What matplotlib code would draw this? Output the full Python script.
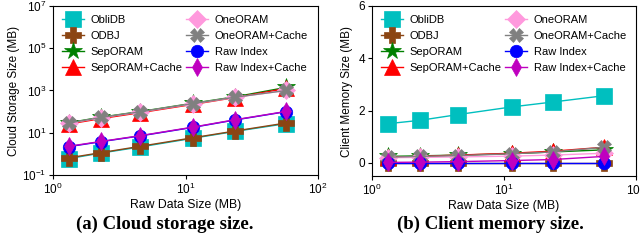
import matplotlib
matplotlib.use("Agg")
import matplotlib.pyplot as plt
import numpy as np

plt.rcParams['font.family'] = ['Liberation Sans', 'DejaVu Sans']

raw_size = [1.32, 2.32, 4.5, 11.4, 23.5, 57.5]

series = ["ObliDB", "ODBJ", "SepORAM", "SepORAM+Cache",
          "OneORAM", "OneORAM+Cache", "Raw Index", "Raw Index+Cache"]

cloud_oblidb = [0.6, 1.1, 2.1, 5.5, 11.5, 27]
cloud_odbj = [0.65, 1.15, 2.25, 5.8, 12, 29]
cloud_seporam = [30, 55, 100, 250, 500, 1400]
cloud_seporam_cache = [26, 47, 88, 220, 460, 1250]
cloud_oneoram = [28, 52, 95, 235, 470, 1000]
cloud_oneoram_cache = [29, 53, 97, 240, 480, 1000]
cloud_raw = [2.2, 3.8, 7.0, 18, 40, 100]
cloud_raw_cache = [2.3, 3.9, 7.2, 18.5, 41, 102]

mem_oblidb = [1.5, 1.63, 1.85, 2.14, 2.33, 2.57]
mem_odbj = [0.0, 0.0, 0.0, 0.0, 0.0, 0.0]
mem_seporam = [0.25, 0.27, 0.3, 0.35, 0.42, 0.5]
mem_seporam_cache = [0.22, 0.25, 0.3, 0.37, 0.45, 0.6]
mem_oneoram = [0.2, 0.21, 0.23, 0.26, 0.3, 0.37]
mem_oneoram_cache = [0.22, 0.25, 0.28, 0.35, 0.42, 0.6]
mem_raw = [0.0, 0.0, 0.0, 0.0, 0.0, 0.0]
mem_raw_cache = [0.02, 0.03, 0.05, 0.09, 0.13, 0.25]

cloud = [cloud_oblidb, cloud_odbj, cloud_seporam, cloud_seporam_cache,
         cloud_oneoram, cloud_oneoram_cache, cloud_raw, cloud_raw_cache]
mem = [mem_oblidb, mem_odbj, mem_seporam, mem_seporam_cache,
       mem_oneoram, mem_oneoram_cache, mem_raw, mem_raw_cache]

colors = ["#00bfbf", "#8b4513", "#008000", "#ff0000",
          "#ff99dd", "#808080", "#0000ff", "#bf00bf"]
markers = ["s", "P", "*", "^", "D", "X", "o", "d"]
msizes = [11, 11, 13, 12, 9, 10, 9, 9]

fig = plt.figure(figsize=(6.4, 2.45), dpi=100)
ax1 = fig.add_axes([53/640, 1-175/245, (318-53)/640, (175-6)/245])
ax2 = fig.add_axes([372/640, 1-176/245, (636-372)/640, (176-6)/245])

for ax, data in ((ax1, cloud), (ax2, mem)):
    for name, vals, c, m, ms in zip(series, data, colors, markers, msizes):
        ax.plot(raw_size, vals, color=c, marker=m, markersize=ms,
                linewidth=1.0, label=name, markeredgewidth=0.5)
    ax.set_xscale('log')
    ax.set_xlim(1, 100)
    ax.set_xlabel("Raw Data Size (MB)", fontsize=8.8, labelpad=1)
    ax.tick_params(labelsize=8.5, length=3, pad=2)
    ax.tick_params(which='minor', length=0)
    ax.legend(ncol=2, frameon=False, fontsize=8, loc='upper left',
              bbox_to_anchor=(0.0, 1.0), handlelength=2.0,
              columnspacing=0.3, labelspacing=0.55, handletextpad=0.6,
              borderaxespad=0.4)

ax1.set_yscale('log')
ax1.set_ylim(0.1, 1e7)
ax1.set_yticks([0.1, 10, 1e3, 1e5, 1e7])
ax1.set_ylabel("Cloud Storage Size (MB)", fontsize=8.5, labelpad=1)
ax1.tick_params(axis='y', which='minor', length=0)

ax2.set_ylim(-0.5, 6)
ax2.set_yticks([0, 2, 4, 6])
ax2.set_ylabel("Client Memory Size (MB)", fontsize=8.5, labelpad=4)

fig.text(165/640, 1-224/245, "(a) Cloud storage size.", ha='center', va='center',
         fontsize=13.5, fontweight='bold', family='Liberation Serif')
fig.text(490/640, 1-224/245, "(b) Client memory size.", ha='center', va='center',
         fontsize=13.5, fontweight='bold', family='Liberation Serif')

fig.savefig("out.png", dpi=100)
